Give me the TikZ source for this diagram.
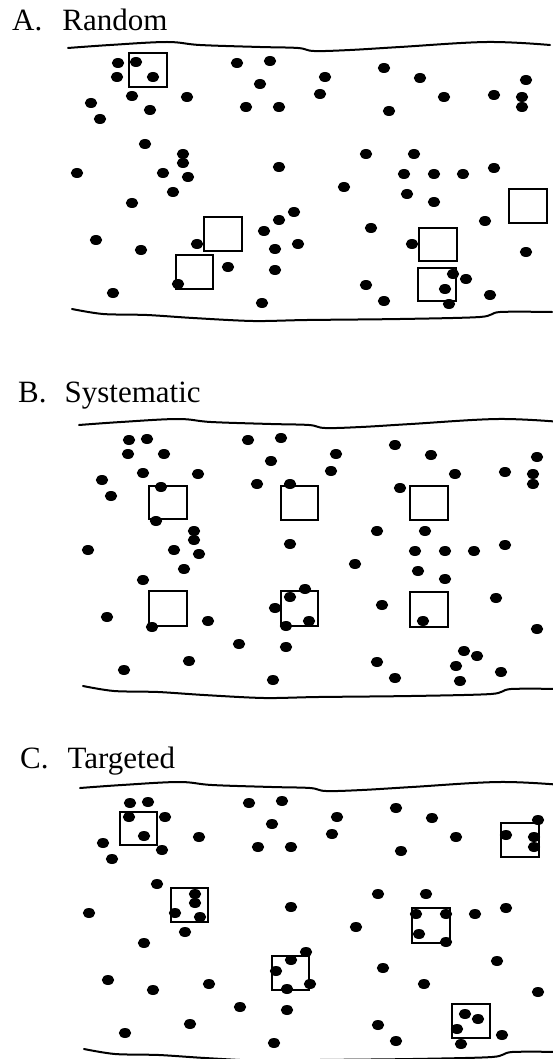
\documentclass[tikz,border=0pt]{standalone}
\usepackage{fontspec}
\setmainfont{Liberation Serif}

\begin{document}
\begin{tikzpicture}[x=1pt,y=-1pt,
	plant/.style={fill=black},
	quadrat/.style={draw=black,line width=1.8pt},
	bank/.style={line width=2pt,line cap=round},
	panellabel/.style={anchor=base west,inner sep=0pt,font=\fontsize{31}{36}\selectfont}]

	\useasboundingbox (0,0) rectangle (553,1059);
	\clip (0,0) rectangle (553,1059);

	% panel titles
	\node[panellabel] (labA) at (12,31) {A.\hspace{20pt}Random};
	\node[panellabel] (labB) at (18,402) {B.\hspace{18pt}Systematic};
	\node[panellabel] (labC) at (20,768) {C.\hspace{19pt}Targeted};

	% sampling quadrats
	\draw[quadrat] (129,53) rectangle (167,87);
	\draw[quadrat] (204,217) rectangle (242,251);
	\draw[quadrat] (176,255) rectangle (213,289);
	\draw[quadrat] (419,228) rectangle (457,261);
	\draw[quadrat] (418,268) rectangle (456,301);
	\draw[quadrat] (509,189) rectangle (547,223);

	\draw[quadrat] (149,486) rectangle (187,519);
	\draw[quadrat] (149,591) rectangle (187,626);
	\draw[quadrat] (281,486) rectangle (318,520);
	\draw[quadrat] (281,591) rectangle (318,626);
	\draw[quadrat] (410,486) rectangle (448,520);
	\draw[quadrat] (410,592) rectangle (448,627);

	\draw[quadrat] (120,812) rectangle (157,845);
	\draw[quadrat] (171,888) rectangle (208,922);
	\draw[quadrat] (272,956) rectangle (309,990);
	\draw[quadrat] (412,908) rectangle (450,943);
	\draw[quadrat] (501,823) rectangle (539,857);
	\draw[quadrat] (452,1004) rectangle (490,1038);

	% same stream reach and plants in each panel
	\foreach \dx/\dy in {0/0, 11/377, 12/740} {
		\begin{scope}[shift={(\dx,\dy)}]
			\draw[bank] plot[smooth,tension=0.6] coordinates {(68,48) (110,45) (167,42) (200,45) (260,47) (298,48) (314,51) (350,50) (400,47) (487,42) (550,45)};
			\draw[bank] plot[smooth,tension=0.5] coordinates {(72,309) (103,314) (147,315) (193,318) (253,321) (307,320) (400,319) (480,317) (500,312) (552,312)};
			\foreach \px/\py in {118/63, 136/62, 117/77, 153/77, 132/96, 187/97, 91/103, 150/110,
				100/119, 145/144, 183/154, 183/163, 77/173, 163/173, 188/177, 173/192,
				132/203, 96/240, 197/244, 141/250, 228/267, 178/284, 113/293,
				237/63, 270/61, 260/84, 246/107, 279/107, 279/167, 294/212, 279/220,
				264/231, 298/244, 275/249, 275/270, 262/303,
				325/77, 320/94, 384/68, 389/111, 420/78, 444/97, 494/95, 526/80,
				522/97, 522/107, 366/154, 414/154, 404/174, 434/174, 463/174, 494/168,
				344/187, 407/194, 434/202, 485/221, 371/228, 412/244, 526/252,
				453/274, 466/279, 445/289, 366/285, 384/301, 449/304, 490/295}
				\fill[plant] (\px,\py) ellipse[x radius=6.2pt,y radius=5pt];
		\end{scope}
	}

\end{tikzpicture}
\end{document}
